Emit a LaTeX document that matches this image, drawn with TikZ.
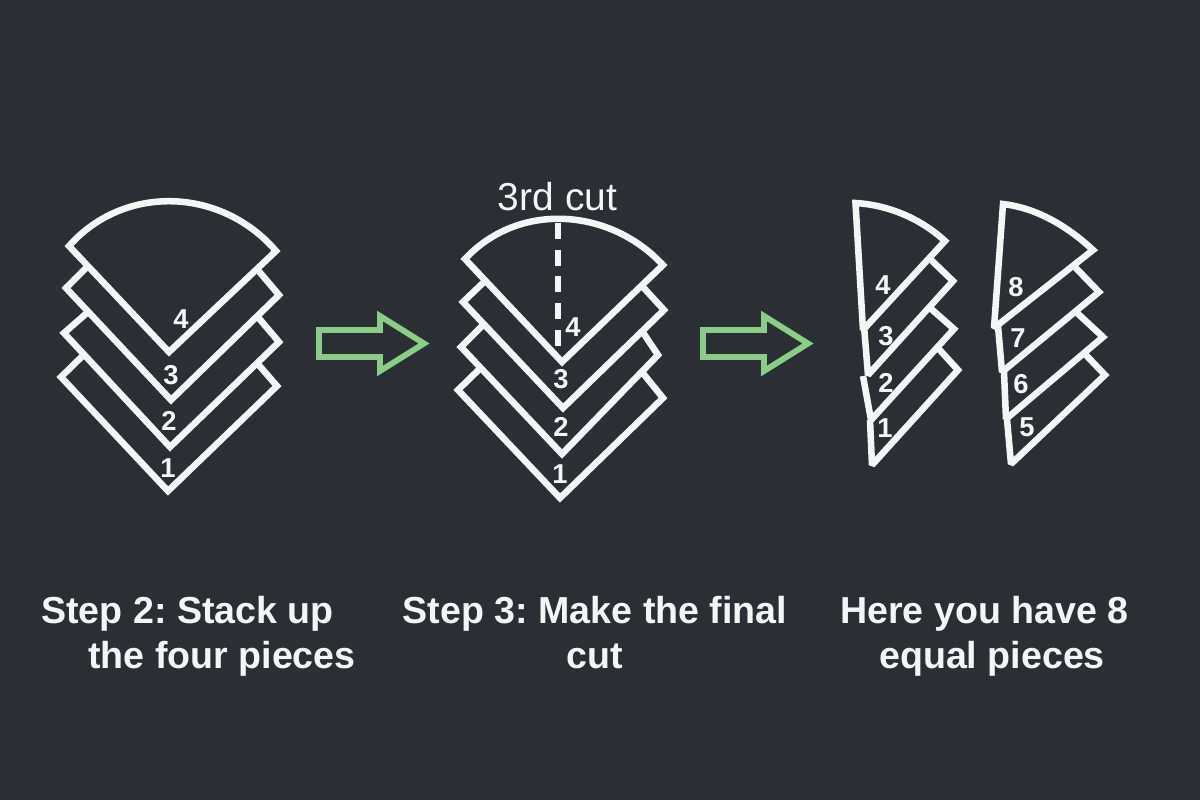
\documentclass[tikz,border=0pt]{standalone}
\usepackage{fontspec}
\setmainfont{Liberation Sans}
\frenchspacing
\definecolor{slateback}{HTML}{2A2F36}
\definecolor{chalk}{HTML}{F4F5F6}
\definecolor{arrowgreen}{HTML}{8CCB88}
\tikzset{
  piece/.style={draw=chalk,line width=4.9pt,line join=miter,miter limit=1.6},
  cutline/.style={draw=chalk,line width=4.4pt,dash pattern=on 12pt off 8pt},
  greenarrow/.style={draw=arrowgreen,line width=4.4pt,line join=miter,miter limit=10},
  numlabel/.style={text=chalk,font=\fontsize{20.5}{20.5}\selectfont\bfseries,inner sep=0pt},
  caption/.style={text=chalk,font=\fontsize{28.2}{28.2}\selectfont\bfseries,inner sep=0pt,anchor=base},
  cutlabel/.style={text=chalk,font=\fontsize{29.2}{29.2}\selectfont,inner sep=0pt,anchor=base}
}
\begin{document}
\begin{tikzpicture}[x=0.75pt,y=-0.75pt]
\useasboundingbox (0,0) rectangle (1200,800);
\fill[slateback] (0,0) rectangle (1200,800);

% Left stack
\draw[piece] (257,363) -- (277,386) -- (168,491) -- (61,377) -- (84,354.5);
\draw[piece] (257,316) -- (279,342) -- (170,447) -- (64,333) -- (88,312);
\draw[piece] (257,269) -- (279,295) -- (171,400) -- (66,288) -- (88,266);
\draw[piece] (69,246) .. controls (124,184) and (221,187) .. (276,251) -- (169,352) -- cycle;
\foreach \x/\y/\t in {181/319/4,171/375/3,169/421/2,168/468/1} {
    \node[numlabel] (left\t) at (\x,\y) {\t};
}

% Middle stack
\draw[piece] (642,372) -- (663,398) -- (560,498) -- (458,390) -- (481,367.5);
\draw[piece] (642,331) -- (658,355) -- (562,454) -- (461,347) -- (484,324);
\draw[piece] (642,286) -- (664,310) -- (563,408) -- (463,302) -- (485,281);
\draw[piece] (465,259) .. controls (518.6,201.5) and (609.4,207.5) .. (663,265) -- (562,362) -- cycle;
\draw[cutline] (558,223) -- (558,348);
\foreach \x/\y/\t in {573/327/4,561/379/3,561/427/2,560/474/1} {
    \node[numlabel] (mid\t) at (\x,\y) {\t};
}
\node[cutlabel] (cutname) at (557.5,210) {3rd cut};

% Cut pieces 1 to 4
\draw[piece] (937,347) -- (958,370) -- (872,465) -- (870,420);
\draw[piece] (929,307) -- (954,329) -- (871,420) -- (863,376);
\draw[piece] (929,258) -- (953,281) -- (868,375) -- (864,326);
\draw[piece] (855.5,203) .. controls (888,205) and (920,218) .. (945,241) -- (863,330) -- cycle;
\foreach \x/\y/\t in {883/285/4,886/336/3,886/383/2,885/428/1} {
    \node[numlabel] (cutA\t) at (\x,\y) {\t};
}

% Cut pieces 5 to 8
\draw[piece] (1084,353) -- (1105,375) -- (1011,464) -- (1007,419);
\draw[piece] (1075,311) -- (1103,337) -- (1006,419) -- (1004,372);
\draw[piece] (1073,265) -- (1099,292) -- (1002,372) -- (998,326);
\draw[piece] (1003,204) .. controls (1036,208) and (1066,225) .. (1093,250) -- (994,328) -- cycle;
\foreach \x/\y/\t in {1016/287/8,1018/338/7,1021/384/6,1027/427/5} {
    \node[numlabel] (cutB\t) at (\x,\y) {\t};
}

% Arrows
\foreach \x in {0,384} {
    \draw[greenarrow,xshift=\x*0.75pt] (319,330) -- (380,330) -- (380,316) -- (424,343.5) -- (380,371) -- (380,357) -- (319,357) -- cycle;
}

% Captions
\node[caption] (stacka) at (187.5,623) {Step 2: Stack up};
\node[caption] (stackb) at (222,668) {the four pieces};
\node[caption] (finala) at (595,623) {Step 3: Make the final};
\node[caption] (finalb) at (595,668) {cut};
\node[caption] (equala) at (984.5,623) {Here you have 8};
\node[caption] (equalb) at (992,668) {equal pieces};
\end{tikzpicture}
\end{document}
